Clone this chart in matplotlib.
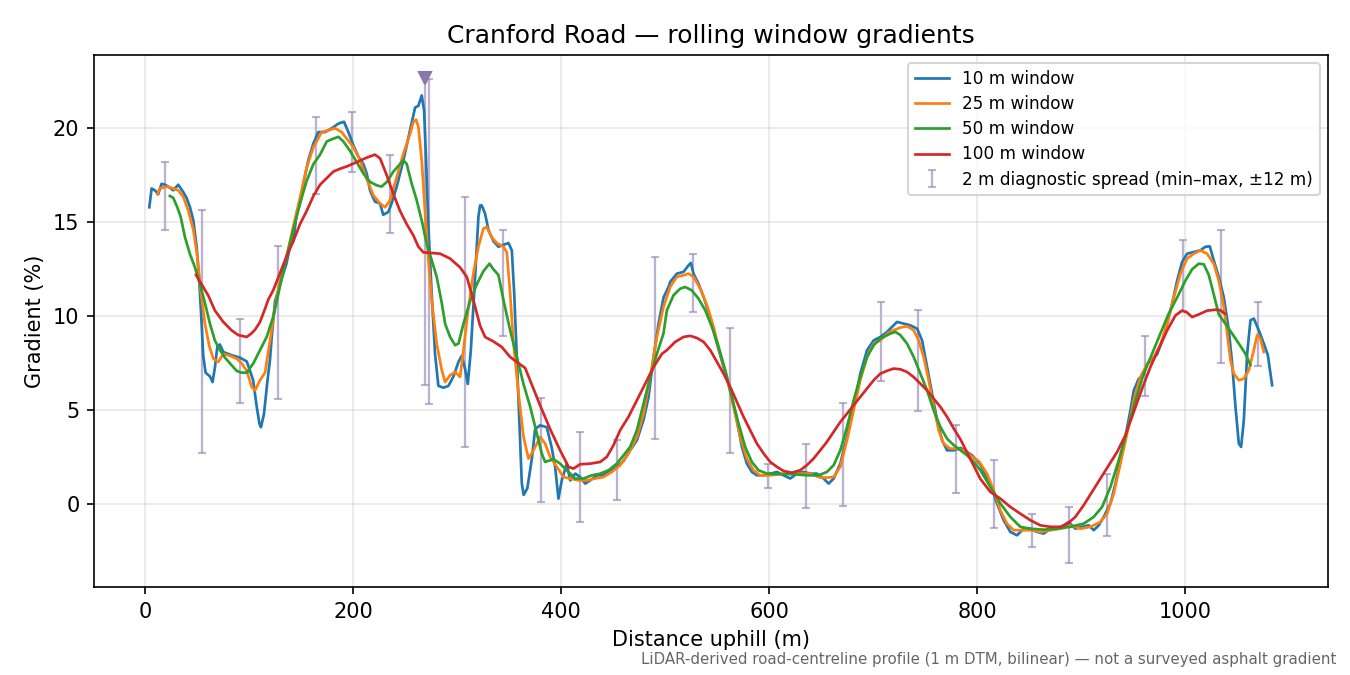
import matplotlib
matplotlib.use("Agg")
import matplotlib.pyplot as plt

# 10 m window (distance m, gradient %)
x_10 = [4.2, 6.4, 9.6, 12.8, 16, 19.2, 22.4, 27.2, 32, 36.9, 40, 43.3, 46.5, 49.7, 52.2, 54.5,
        56, 58.3, 62.5, 65, 67.3, 69.6, 72, 75.3, 80, 85, 91.3, 97.8, 101, 104, 107.4, 110,
        111.5, 114.4, 117.6, 120.2, 122, 125, 131.4, 136, 139.4, 142.6, 145.8, 149, 152.2,
        155.4, 157, 161.9, 166.7, 173, 179.5, 185.9, 191.3, 195.5, 200.3, 205.1, 209.9, 213.1,
        216.3, 221, 225.9, 229, 233.9, 237, 242, 248.4, 254.8, 259.6, 262.8, 266, 268.3, 270.2,
        272.4, 275.6, 278.8, 282, 286.9, 291.7, 296.5, 301.3, 304.5, 307.7, 310.3, 313.2, 317.3,
        320.5, 322.1, 323.7, 326.9, 330.1, 334.9, 339.7, 344.6, 349.4, 352.6, 354.9, 357.5, 360,
        362.2, 364, 367.5, 371.8, 375, 379.8, 386.2, 391, 394.2, 397.4, 400.6, 405.4, 408.7,
        413.5, 418.3, 423.1, 427.9, 434.3, 440.7, 447.1, 453.5, 459.9, 466.3, 472.8, 479.2, 484,
        488.8, 493.6, 498.4, 503.2, 504.8, 511.2, 517.6, 522.4, 524.7, 527.2, 532, 536.9, 543.3,
        549.7, 556.1, 562.5, 568.9, 573.7, 578.5, 583.3, 588.1, 594.6, 601, 607.4, 613.8, 620.2,
        626.6, 633, 639.4, 645.8, 652.2, 657.1, 661.9, 668.3, 674.7, 681.1, 687.5, 694, 700.4,
        706.8, 713.2, 719.6, 722.8, 729.2, 735.6, 742.1, 746.9, 751.7, 756.5, 761.3, 766.1,
        770.9, 777.4, 783.8, 790.2, 795, 803, 812.5, 818.9, 825.3, 831.7, 838.1, 844.6, 851,
        857.4, 863.8, 870.2, 876.6, 883, 887.8, 894.2, 900.6, 907.1, 911.9, 916.7, 921.5, 927.9,
        932.7, 937.5, 942.3, 947.1, 950.3, 955.1, 959.9, 963.1, 967.9, 972.8, 977.6, 982.4,
        987.2, 992, 996.8, 1001.6, 1008, 1014.4, 1019.2, 1023.4, 1027.2, 1032, 1036.9, 1041.7,
        1044.9, 1048.1, 1051.3, 1053.5, 1056.1, 1059.3, 1062.5, 1065.7, 1070.5, 1075.3, 1079.2,
        1083.3]
g_10 = [15.8, 16.8, 16.7, 16.5, 17.05, 17.0, 16.9, 16.7, 17.0, 16.6, 16.3, 15.8, 15.1, 13.7, 11.9, 9.6,
        7.9, 7.0, 6.8, 6.5, 7.3, 8.4, 8.5, 8.1, 8.0, 7.9, 7.8, 7.6, 7.1, 6.6, 5.2, 4.3,
        4.1, 4.8, 6.5, 7.7, 9.0, 10.8, 12.0, 12.8, 13.7, 14.0, 15.46, 16.0, 17.05,
        17.9, 18.3, 19.2, 19.8, 19.8, 20.0, 20.25, 20.35, 19.8, 19.1, 18.5, 18.1, 17.6,
        16.7, 16.1, 16.0, 15.4, 15.55, 16.0, 16.9, 18.3, 19.9, 21.1, 21.2, 21.75, 20.95, 18.3,
        14.75, 11.2, 8.0, 6.3, 6.2, 6.3, 6.8, 7.57, 7.9, 7.2, 6.4, 8.2, 12.1,
        15.3, 15.9, 15.9, 15.46, 14.6, 14.0, 13.7, 13.8, 13.9, 13.5, 11.2, 7.66, 4.1,
        1.1, 0.5, 0.85, 2.4, 4.0, 4.2, 4.1, 3.0, 2.0, 0.3, 1.27, 2.16, 1.27,
        1.63, 1.45, 1.1, 1.27, 1.54, 1.54, 1.8, 1.98, 2.3, 2.87, 3.4, 4.5, 5.7,
        7.84, 9.6, 11.0, 11.56, 11.83, 12.27, 12.36, 12.71, 12.84, 12.27, 11.74, 11.03, 9.96,
        8.55, 7.3, 6.06, 4.47, 3.05, 2.16, 1.72, 1.54, 1.54, 1.63, 1.72, 1.54, 1.37,
        1.63, 1.72, 1.63, 1.63, 1.37, 1.1, 1.37, 2.16, 3.58, 5.18, 6.95, 8.2, 8.72,
        8.9, 9.17, 9.52, 9.7, 9.61, 9.52, 9.34, 8.72, 7.3, 5.9, 4.47, 3.4,
        2.87, 2.87, 3.0, 2.78, 2.6, 2.1, 1.1, 0.04, -0.85, -1.47, -1.65, -1.3, -1.3,
        -1.47, -1.56, -1.3, -1.3, -1.12, -0.94, -1.3, -1.2, -1.12, -1.38, -1.12, -0.67, 0.04,
        1.1, 2.34, 3.58, 5.0, 6.05, 6.68, 6.9, 7.45, 7.7, 7.98, 8.7, 9.6,
        10.67, 11.9, 12.89, 13.33, 13.42, 13.51, 13.7, 13.72, 12.98, 12.1, 11.0, 9.25,
        7.48, 5.17, 3.23, 3.05, 4.47, 8.0, 9.79, 9.88, 9.25, 8.55, 7.93,
        6.33]

# 25 m window
x_25 = [11.9, 14.4, 20.8, 27.2, 32, 36.9, 41.7, 46.5, 50.3, 53.5, 57.7, 61.9, 65.7, 70.5, 75.3,
        81.7, 88.1, 92.9, 97.8, 102.6, 105.8, 110.6, 115.4, 120.2, 125, 129.8, 136.2, 142.6,
        149, 155.4, 161.9, 169.9, 176.3, 182.7, 189.1, 193.9, 200.3, 206.7, 213.1, 219.6, 226,
        230.8, 235.6, 242, 248.4, 254.8, 258, 260.6, 262.8, 266, 269.2, 272.4, 275.6, 280.4,
        285.3, 288.5, 293.3, 298.1, 302.9, 306.1, 310.9, 315.7, 320.5, 325.3, 328.5, 333.3,
        338.1, 344.6, 347.8, 351, 354.2, 359, 363.8, 368.6, 373.4, 379.8, 384.6, 389.4, 395.8,
        402.2, 408.7, 416.7, 424.7, 432.7, 440.7, 448.7, 456.7, 464.7, 472.8, 479.2, 485.6, 492,
        498.4, 504.8, 511.2, 517.6, 522.4, 527.2, 533.7, 540.1, 546.5, 552.9, 559.3, 565.7,
        572.1, 578.5, 584.9, 591.3, 601, 613.8, 626.6, 639.4, 649, 655.4, 661.9, 668.3, 674.7,
        681.1, 687.5, 694, 700.4, 706.8, 713.2, 719.6, 726, 732.4, 738.8, 743.6, 748.4, 753.2,
        758, 762.8, 767.6, 774, 780.5, 786.9, 793.3, 801.3, 809.3, 815.7, 822.1, 828.5, 834.9,
        842.9, 851, 860.6, 870.2, 879.8, 889.4, 899, 908.7, 918.3, 924.7, 931.1, 937.5, 943.9,
        950.3, 956.7, 963.1, 969.5, 975.9, 982.4, 988.8, 995.2, 1001.6, 1008, 1014.4, 1020.8,
        1027.2, 1032, 1036.9, 1040.1, 1043.3, 1046.5, 1051.3, 1056.1, 1060.9, 1065.7, 1068.9,
        1072.1, 1075.3]
g_25 = [16.5, 16.8, 16.9, 16.8, 16.7, 16.35, 15.6, 14.6, 13.2, 11.4, 9.6, 8.4, 7.75, 7.57, 8.0,
        7.9, 7.75, 7.5, 7.1, 6.24, 6.06, 6.6, 7.0, 8.7, 10.5, 11.9, 13.2, 14.8,
        16.3, 17.9, 19.0, 19.8, 19.9, 20.0, 19.8, 19.45, 19.0, 18.3, 17.3, 16.43, 16.0,
        15.8, 16.17, 17.4, 18.65, 19.7, 20.35, 20.46, 20.07, 18.3, 15.6, 13.0, 10.85, 8.55,
        7.13, 6.5, 6.86, 7.04, 6.77, 8.2, 10.5, 12.3, 13.7, 14.67, 14.76, 14.2,
        13.9, 13.7, 13.4, 11.2, 8.55, 5.9, 3.6, 2.43, 2.87, 3.58, 3.23, 2.52, 2.0,
        1.45, 1.37, 1.27, 1.27, 1.37, 1.45, 1.72, 2.07, 2.7, 3.58, 4.82, 6.77, 8.9,
        10.5, 11.56, 12.1, 12.18, 12.27, 12.1, 11.47, 10.6, 9.43, 8.0, 6.77, 5.18,
        3.58, 2.43, 1.81, 1.54, 1.54, 1.63, 1.63, 1.63, 1.42, 1.42, 1.45, 1.99, 3.4,
        5.0, 6.6, 7.84, 8.55, 8.72, 9.08, 9.26, 9.4, 9.47, 9.26, 8.72, 7.84, 6.6,
        5.18, 3.94, 3.23, 2.96, 2.96, 2.87, 2.6, 2.3, 1.63, 0.74, -0.32, -1.03, -1.38,
        -1.38, -1.38, -1.47, -1.38, -1.3, -1.12, -1.3, -1.2, -0.94, -0.5, 0.57, 2.16, 3.76,
        5.53, 6.77, 7.45, 7.8, 8.5, 9.6, 11.0, 12.27, 13.07, 13.33, 13.51, 13.33,
        12.8, 11.9, 10.5, 9.08, 7.66, 6.95, 6.6, 6.68, 7.13, 8.2, 9.0,
        8.8, 8.1]

# 50 m window
x_50 = [24, 27.2, 31.1, 34.3, 38.5, 43.3, 48.1, 52.9, 57.7, 62.5, 67.3, 72.1, 76.9, 81.7, 88.1,
        92.9, 97.8, 104.2, 110.6, 117, 123.4, 129.8, 136.2, 142.6, 149, 155.4, 161.9, 168.3,
        174.7, 181.1, 185.9, 190.7, 197.1, 203.5, 209.9, 216.3, 222.7, 227.5, 232.4, 238.8,
        243.6, 248.4, 251.6, 256.4, 261.2, 266, 270.8, 275.6, 280.4, 285.3, 288.5, 293.3, 298.1,
        301.3, 306.1, 312.5, 318.9, 325.3, 331.1, 334.9, 339.7, 344.6, 351, 357.4, 363.8, 370.2,
        376.6, 381.4, 384.6, 392.6, 399, 407, 413.5, 421.5, 429.5, 437.5, 445.5, 453.5, 459.9,
        466.3, 472.8, 479.2, 485.6, 492, 498.4, 501.6, 508, 514.4, 519.2, 525.6, 532, 538.5,
        544.9, 551.3, 557.7, 564.1, 570.5, 576.9, 583.3, 589.7, 597.8, 610.6, 623.4, 636.2,
        647.4, 655.4, 661.9, 668.3, 674.7, 681.1, 687.5, 694, 700.4, 706.8, 716.4, 721.2, 726,
        732.4, 738.8, 745.2, 751.7, 758, 764.5, 770.9, 777.4, 783.8, 790.2, 796.6, 802.9, 812.5,
        822.1, 831.7, 841.3, 851, 863.8, 876.6, 889.4, 902.2, 911.9, 919.9, 927.9, 935.9, 943.9,
        952, 959.9, 967.9, 975.9, 983.9, 992, 1000, 1006.4, 1012.8, 1017.6, 1022.4, 1027.2,
        1032, 1038.5, 1044.9, 1051.3, 1057.7, 1062.5]
g_50 = [16.4, 16.3, 15.8, 15.3, 14.2, 13.3, 12.6, 11.7, 10.7, 9.6, 8.7, 8.2, 7.8, 7.5, 7.1,
        7.0, 7.0, 7.5, 8.2, 8.9, 10.0, 11.6, 13.2, 14.6, 16.0, 17.2, 18.1, 18.6,
        19.3, 19.45, 19.55, 19.3, 18.8, 18.2, 17.6, 17.15, 16.97, 16.9, 17.15, 17.7,
        18.0, 18.3, 18.1, 17.05, 16.17, 15.1, 13.86, 12.98, 12.1, 10.7, 9.6, 8.9, 8.46,
        8.55, 9.6, 10.8, 11.7, 12.4, 12.8, 12.5, 12.2, 10.85, 9.25, 7.84, 6.4, 5.2,
        3.76, 2.7, 2.25, 2.4, 2.16, 1.72, 1.37, 1.37, 1.54, 1.63, 1.81, 2.16, 2.6,
        3.05, 3.94, 5.35, 6.77, 8.0, 9.1, 10.32, 11.12, 11.47, 11.56, 11.38, 10.94, 10.32,
        9.43, 8.37, 7.13, 5.71, 4.29, 3.05, 2.25, 1.81, 1.63, 1.6, 1.6, 1.54,
        1.54, 1.72, 2.08, 2.87, 4.11, 5.53, 6.77, 7.84, 8.46, 8.82, 9.08, 9.17, 9.0,
        8.55, 7.84, 6.95, 6.06, 5.0, 4.11, 3.49, 3.14, 2.87, 2.6, 2.25, 1.81, 0.92,
        0.04, -0.67, -1.2, -1.3, -1.35, -1.3, -1.2, -1.03, -0.67, -0.14, 0.92, 2.34, 3.94,
        5.53, 6.95, 8.0, 9.08, 10.14, 11.0, 11.9, 12.5, 12.8, 12.77, 12.2, 11.17,
        10.1, 9.6, 9.08, 8.55, 8.0, 7.4]

# 100 m window
x_100 = [49.1, 54.5, 60.9, 67.3, 75.3, 83.3, 89.7, 97.8, 102.6, 106, 110.6, 115.4, 118.6, 123.4,
         129.8, 136.2, 142.6, 149, 155.4, 161.9, 168.3, 174.7, 181.1, 187.5, 193.9, 203.5,
         213.1, 221.1, 226, 232.4, 238.8, 245.2, 251.6, 258, 262.8, 267.6, 275.6, 283.7, 293.3,
         302.9, 309.3, 315.7, 322.1, 326.9, 334.9, 342.9, 350.9, 357.4, 365.4, 371.8, 379.8,
         389.4, 399, 407.1, 411.9, 418.3, 427.9, 437.5, 443.9, 450.3, 456.7, 464.7, 472.8, 480.8,
         488.8, 496.8, 501.6, 509.6, 517.6, 524, 530.4, 536.9, 543.3, 549.7, 556.1, 562.5, 568.9,
         575.3, 581.7, 588.1, 594.6, 601, 607.4, 613.8, 621.8, 629.8, 636.2, 642.6, 649, 655.4,
         661.9, 668.3, 674.7, 681.1, 687.5, 694, 700.4, 706.8, 713.2, 719.6, 726, 732.4, 738.8,
         745.2, 751.7, 758, 764.5, 770.9, 777.4, 783.8, 790.2, 796.6, 802.9, 812.5, 822.1, 831.7,
         841.3, 851, 860.6, 870.2, 879.8, 886.2, 894.2, 902.2, 910.3, 918.3, 926.3, 934.3, 942.3,
         950.3, 958.3, 966.3, 974.4, 982.4, 990.4, 996.8, 1001.6, 1006.4, 1012.8, 1020.8, 1028.8,
         1033.6, 1037.8]
g_100 = [12.2, 11.7, 11.1, 10.3, 9.7, 9.25, 9.0, 8.9, 9.1, 9.3, 9.7, 10.4, 10.9, 11.4,
         12.3, 13.2, 14.0, 14.9, 15.6, 16.4, 17.0, 17.35, 17.7, 17.85, 17.97, 18.2,
         18.44, 18.6, 18.4, 17.5, 16.5, 15.6, 14.9, 14.3, 13.7, 13.4, 13.37, 13.33, 13.07,
         12.6, 12.1, 10.85, 9.5, 8.9, 8.66, 8.37, 7.84, 7.57, 7.25, 6.36, 5.26,
         4.0, 2.87, 1.99, 1.9, 2.13, 2.16, 2.25, 2.52, 3.14, 3.94, 4.65, 5.53, 6.42,
         7.3, 8.0, 8.2, 8.64, 8.9, 8.96, 8.85, 8.64, 8.2, 7.57, 6.95, 6.24, 5.44,
         4.65, 3.94, 3.23, 2.7, 2.25, 1.99, 1.77, 1.68, 1.81, 2.08, 2.43, 2.87, 3.32,
         3.85, 4.38, 4.82, 5.27, 5.71, 6.15, 6.6, 6.95, 7.1, 7.22, 7.18, 7.04, 6.77,
         6.42, 6.06, 5.62, 5.18, 4.65, 4.02, 3.45, 2.75, 2.05, 1.35, 0.66, 0.3, -0.14,
         -0.5, -0.85, -1.12, -1.2, -1.2, -1.06, -0.67, -0.05, 0.66, 1.37, 2.08, 2.78, 3.67,
         4.91, 6.15, 7.3, 8.28, 9.25, 10.05, 10.3, 10.2, 9.96, 10.1, 10.3, 10.35,
         10.32, 10.14]

# 2 m diagnostic spread (min / max over +-12 m)
spread_x = [19.2, 54.8, 91.3, 127.9, 164.4, 199, 235.6, 269.2, 273, 307.7, 344, 380.8, 418, 453.8,
            490.4, 527, 562.5, 599, 635.6, 671, 707.7, 743.3, 779.8, 816, 853, 888.5, 925, 961.5,
            998, 1034.6, 1070]
spread_lo = [14.57, 2.73, 5.4, 5.6, 16.5, 17.68, 14.43, 6.33, 5.36, 3.05, 8.94, 0.12, -0.94, 0.21,
             3.49, 10.23, 2.73, 0.87, -0.2, -0.09, 6.56, 4.96, 0.6, -1.24, -2.27, -3.12, -1.68, 5.76,
             10.3, 7.52, 7.36]
spread_hi = [18.2, 15.64, 9.84, 13.73, 20.6, 20.87, 18.57, 22.7, 22.6, 16.35, 14.57, 5.66, 3.85, 3.44,
             13.16, 13.3, 9.38, 2.13, 3.19, 5.41, 10.74, 10.32, 4.2, 2.34, -0.53, -0.14, 1.6, 8.94,
             14.04, 14.57, 10.76]
clipped_x = [269.2]
clipped_y = [22.7]

fig, ax = plt.subplots(figsize=(9, 4.5), dpi=150)

mid = [(a + b) / 2 for a, b in zip(spread_lo, spread_hi)]
err = [[m - a for m, a in zip(mid, spread_lo)], [b - m for m, b in zip(mid, spread_hi)]]
eb = ax.errorbar(spread_x, mid, yerr=err, fmt='none', ecolor='#8f80b5', alpha=0.6,
                 elinewidth=1.1, capsize=2, capthick=1, zorder=1,
                 label='2 m diagnostic spread (min–max, ±12 m)')
ax.plot(clipped_x, clipped_y, 'v', color='#8a78ad', markersize=6, zorder=4)

l1, = ax.plot(x_10, g_10, color='#1f77b4', lw=1.3, label='10 m window', zorder=3)
l2, = ax.plot(x_25, g_25, color='#ff7f0e', lw=1.3, label='25 m window', zorder=3)
l3, = ax.plot(x_50, g_50, color='#2ca02c', lw=1.3, label='50 m window', zorder=3)
l4, = ax.plot(x_100, g_100, color='#d62728', lw=1.3, label='100 m window', zorder=3)

ax.set_xlim(-49, 1137)
ax.set_ylim(-4.4, 23.9)
ax.set_xlabel('Distance uphill (m)')
ax.set_ylabel('Gradient (%)')
ax.set_title('Cranford Road — rolling window gradients')
ax.grid(True, alpha=0.3)
ax.legend(handles=[l1, l2, l3, l4, eb], loc='upper right', fontsize=8.1, labelspacing=0.42)

fig.subplots_adjust(left=0.0696, right=0.9837, top=0.9185, bottom=0.1304)
fig.text(0.99, 0.012, 'LiDAR-derived road-centreline profile (1 m DTM, bilinear) — not a surveyed asphalt gradient',
         ha='right', va='bottom', fontsize=7.2, color='#666666')

fig.savefig('out.png', dpi=150)
